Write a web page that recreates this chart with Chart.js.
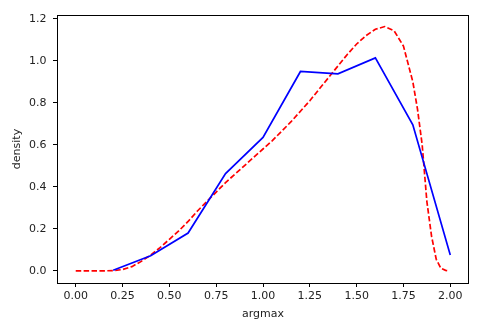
<!DOCTYPE html>
<html>
<head>
<meta charset="utf-8">
<script src="https://cdn.jsdelivr.net/npm/chart.js@4/dist/chart.umd.min.js"></script>
<style>
  html, body { margin: 0; padding: 0; background: #fff; }
  #wrap { width: 479px; height: 330px; }
</style>
</head>
<body>
<div id="wrap"><canvas id="myChart"></canvas></div>
<script>
// histogram-ish density (blue)
const histX = [0.2, 0.4, 0.6, 0.8, 1.0, 1.2, 1.4, 1.6, 1.8, 2.0];
const histY = [0.003, 0.072, 0.18, 0.463, 0.635, 0.949, 0.938, 1.014, 0.695, 0.075];

// smooth density estimate (red dashed)
const kdeX = [0, 0.05, 0.1, 0.15, 0.2, 0.25, 0.3, 0.35, 0.4, 0.45, 0.5, 0.55, 0.6, 0.65, 0.7,
  0.75, 0.8, 0.85, 0.9, 0.95, 1.0, 1.05, 1.1, 1.15, 1.2, 1.25, 1.3, 1.35, 1.4, 1.45, 1.5,
  1.55, 1.6, 1.65, 1.7, 1.75, 1.8, 1.825, 1.85, 1.875, 1.9, 1.925, 1.95, 1.975, 1.99];
const kdeY = [0, 0, 0, 0, 0.001, 0.006, 0.02, 0.045, 0.075, 0.11, 0.15, 0.19, 0.235, 0.285, 0.33,
  0.375, 0.42, 0.46, 0.5, 0.54, 0.58, 0.62, 0.665, 0.71, 0.76, 0.81, 0.865, 0.92, 0.975, 1.03, 1.08,
  1.12, 1.15, 1.163, 1.143, 1.07, 0.9, 0.77, 0.6, 0.33, 0.165, 0.055, 0.012, 0.002, 0.0];

const xTicks = [0, 0.25, 0.5, 0.75, 1.0, 1.25, 1.5, 1.75, 2.0];
const yTicks = [0, 0.2, 0.4, 0.6, 0.8, 1.0, 1.2];

const toPoints = (xs, ys) => xs.map((x, i) => ({ x: x, y: ys[i] }));

// black frame around the plot area, like matplotlib spines
const frame = {
  id: 'frame',
  afterDatasetsDraw(chart) {
    const { ctx, chartArea: a } = chart;
    ctx.save();
    ctx.strokeStyle = '#000';
    ctx.lineWidth = 1;
    ctx.strokeRect(Math.round(a.left) + 0.5, Math.round(a.top) + 0.5,
      Math.round(a.right - a.left) - 1, Math.round(a.bottom - a.top));
    ctx.restore();
  }
};

const font = { family: 'DejaVu Sans', size: 11 };
const tickGrid = { drawOnChartArea: false, drawTicks: true, tickLength: 4, color: '#000', lineWidth: 1 };

const ctx = document.getElementById('myChart').getContext('2d');
new Chart(ctx, {
  type: 'line',
  data: {
    datasets: [
      {
        data: toPoints(histX, histY),
        borderColor: '#0000ff',
        borderWidth: 1.7,
        pointRadius: 0,
        tension: 0,
        fill: false
      },
      {
        data: toPoints(kdeX, kdeY),
        borderColor: '#ff0000',
        borderWidth: 1.7,
        borderDash: [5.5, 2.4],
        pointRadius: 0,
        tension: 0,
        fill: false
      }
    ]
  },
  options: {
    responsive: true,
    maintainAspectRatio: false,
    animation: false,
    layout: { padding: { left: 0, right: 10, top: 15, bottom: 0 } },
    scales: {
      x: {
        type: 'linear',
        min: -0.1,
        max: 2.1,
        afterBuildTicks: axis => { axis.ticks = xTicks.map(v => ({ value: v })); },
        afterFit: axis => { axis.height = 47; },
        ticks: { font: font, color: '#222', padding: 2.5, maxRotation: 0,
          callback: v => Number(v).toFixed(2) },
        grid: tickGrid,
        border: { display: false },
        title: { display: true, text: 'argmax', font: font, color: '#222', padding: { top: 0, bottom: 9.5 } }
      },
      y: {
        type: 'linear',
        min: -0.058,
        max: 1.218,
        afterBuildTicks: axis => { axis.ticks = yTicks.map(v => ({ value: v })); },
        afterFit: axis => { axis.width = 57; },
        ticks: { font: font, color: '#222', padding: 6.5,
          callback: v => Number(v).toFixed(1) },
        grid: tickGrid,
        border: { display: false },
        title: { display: true, text: 'density', font: font, color: '#222', padding: { top: 10.5, bottom: 0 } }
      }
    },
    plugins: {
      legend: { display: false },
      tooltip: { enabled: false }
    }
  },
  plugins: [frame]
});
</script>
</body>
</html>
